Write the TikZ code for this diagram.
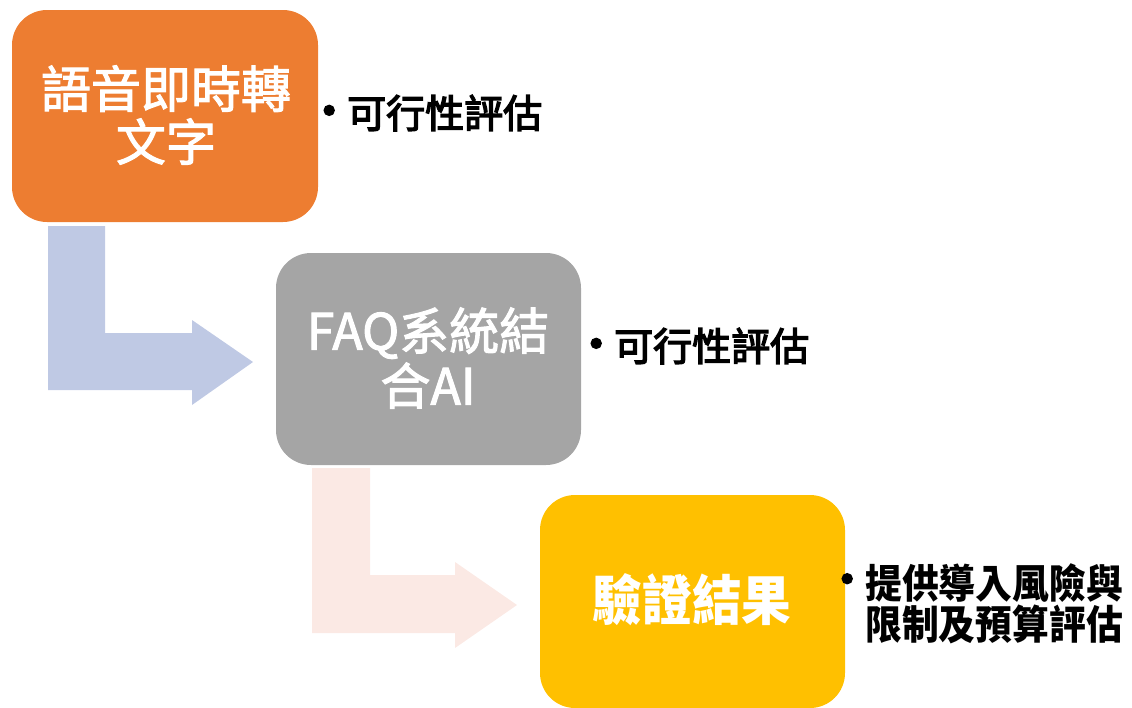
\documentclass[tikz,border=0pt]{standalone}
\usepackage{fontspec}
\newfontfamily\cjk{Noto Sans CJK TC}
\newfontfamily\cjkm[FakeBold=2]{Noto Sans CJK TC}
\newfontfamily\cjkb[FakeBold=3.5]{Noto Sans CJK TC}
\newfontfamily\cjkc[FakeStretch=0.92]{Noto Sans CJK TC}
\definecolor{boxorange}{HTML}{ED7D31}
\definecolor{boxgrey}{HTML}{A5A5A5}
\definecolor{boxyellow}{HTML}{FFC000}
\definecolor{arrowblue}{HTML}{BFC9E4}
\definecolor{arrowpeach}{HTML}{FBE9E4}
\begin{document}
\begin{tikzpicture}[x=1pt,y=-1pt,
  stagebox/.style={rounded corners=35pt, inner sep=0pt, text=white, align=center},
  bullettext/.style={anchor=west, inner sep=0pt, align=left, text=black}]
\useasboundingbox (0,0) rectangle (1132,707);
% boxes
\fill[boxorange, rounded corners=35pt] (12,10) rectangle (318,222);
\node[stagebox, font=\cjkm\fontsize{50}{53}\selectfont] (b1) at (166,115) {語音即時轉\\文字};
\fill[boxgrey, rounded corners=35pt] (276,253) rectangle (581,465);
\node[stagebox, font=\cjkm\fontsize{50}{55}\selectfont] (b2) at (428,358) {FAQ系統結\\合AI};
\fill[boxyellow, rounded corners=35pt] (540,495) rectangle (845,708);
\node[stagebox, font=\cjkc\bfseries\fontsize{54}{56}\selectfont] (b3) at (692,600) {驗證結果};
% bent arrows
\fill[arrowblue] (48,226) -- (105,226) -- (105,333) -- (192,333) -- (192,320) -- (253,362) -- (192,405) -- (192,390) -- (48,390) -- cycle;
\fill[arrowpeach] (312,468) -- (370,468) -- (370,575) -- (455,575) -- (455,562) -- (517,605) -- (455,648) -- (455,633) -- (312,633) -- cycle;
% bullets
\node[bullettext, font=\cjkb\fontsize{39}{44}\selectfont] (t1) at (306,113) {{\fontsize{46}{44}\selectfont •}\hspace{-5pt}可行性評估};
\node[bullettext, font=\cjkb\fontsize{39}{44}\selectfont] (t2) at (573,346) {{\fontsize{46}{44}\selectfont •}\hspace{-5pt}可行性評估};
\node[anchor=west, inner sep=0pt, font=\cjkb\fontsize{46}{44}\selectfont] (d3) at (824,585) {•};
\node[bullettext, anchor=north west, font=\cjkc\bfseries\fontsize{40}{41}\selectfont] (t3) at (865,563) {提供導入風險與\\限制及預算評估};
\end{tikzpicture}
\end{document}
